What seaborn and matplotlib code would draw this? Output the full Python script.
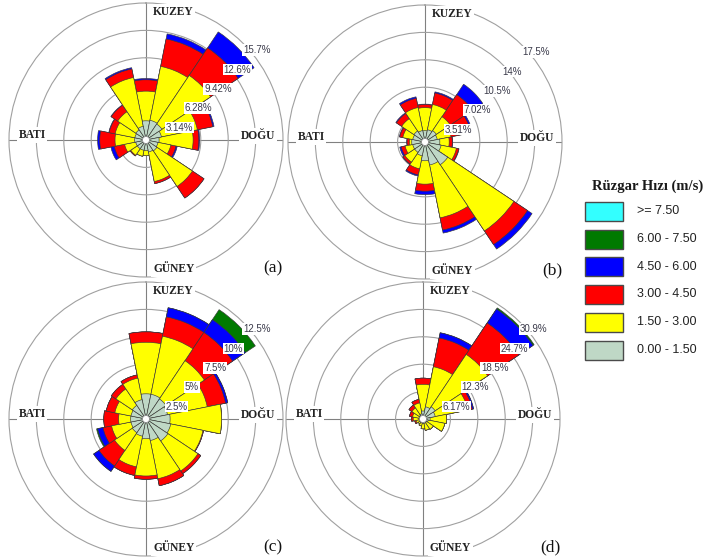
import numpy as np
import pandas as pd
import matplotlib
matplotlib.use("Agg")
import matplotlib.pyplot as plt
from matplotlib.patches import Circle, Rectangle
import seaborn as sns

# ---------------- data ----------------
directions = ["N", "NNE", "NE", "ENE", "E", "ESE", "SE", "SSE",
              "S", "SSW", "SW", "WSW", "W", "WNW", "NW", "NNW"]
direction_deg = [0, 22.5, 45, 67.5, 90, 112.5, 135, 157.5,
                 180, 202.5, 225, 247.5, 270, 292.5, 315, 337.5]
speed_classes = ["0.00 - 1.50", "1.50 - 3.00", "3.00 - 4.50",
                 "4.50 - 6.00", "6.00 - 7.50", ">= 7.50"]
class_colors = ["#bfd8c6", "#ffff00", "#ff0000", "#0000ff", "#007a00", "#33ffff"]

# Panel (a)  frequency (%) per speed class, per direction
a_0_15 = [2.2, 2.3, 2.2, 1.8, 1.5, 1.4, 1.5, 1.4, 1.2, 1.2, 1.2, 1.2, 1.3, 1.3, 1.4, 1.6]
a_15_30 = [3.4, 6.3, 6.7, 4.2, 3.9, 1.5, 4.9, 3.45, 0.6, 0.7, 0.9, 1.3, 2.25, 2.3, 2.5, 5.7]
a_30_45 = [1.3, 3.2, 3.8, 1.8, 0.65, 0.6, 1.6, 0.25, 0.0, 0.0, 0.1, 1.2, 1.75, 0.7, 0.9, 1.0]
a_45_60 = [0.15, 0.6, 2.2, 0.15, 0.1, 0.15, 0.0, 0.0, 0.0, 0.0, 0.0, 0.4, 0.25, 0.05, 0.05, 0.15]
a_60_75 = [0.0] * 16
a_rings = ["3.14%", "6.28%", "9.42%", "12.6%", "15.7%"]
a_step = 3.14

# Panel (b)
b_0_15 = [1.45, 1.6, 1.75, 1.6, 1.9, 2.1, 3.5, 3.0, 2.4, 1.8, 1.6, 1.6, 1.7, 1.6, 1.7, 1.5]
b_15_30 = [2.95, 3.3, 2.15, 1.8, 1.2, 2.0, 10.2, 6.9, 3.0, 1.7, 1.5, 1.0, 0.3, 1.3, 1.9, 3.0]
b_30_45 = [0.4, 1.5, 3.4, 2.6, 0.4, 0.3, 2.1, 1.6, 0.9, 0.8, 0.3, 0.5, 0.3, 0.4, 0.8, 1.2]
b_45_60 = [0.05, 0.15, 1.6, 0.2, 0.05, 0.05, 0.7, 0.4, 0.45, 0.15, 0.05, 0.2, 0.05, 0.05, 0.1, 0.2]
b_60_75 = [0.0] * 16
b_rings = ["3.51%", "7.02%", "10.5%", "14%", "17.5%"]
b_step = 3.51

# Panel (c)
c_0_15 = [2.3, 2.3, 2.2, 2.0, 2.2, 2.3, 2.4, 2.0, 1.8, 1.6, 1.5, 1.4, 1.4, 1.4, 1.5, 1.8]
c_15_30 = [4.7, 5.4, 4.2, 3.7, 4.7, 3.0, 3.3, 3.55, 3.4, 2.85, 1.95, 1.8, 1.1, 1.5, 1.8, 2.0]
c_30_45 = [0.95, 1.8, 3.1, 1.7, 0.0, 0.05, 0.3, 0.65, 0.3, 0.8, 1.7, 0.8, 1.35, 0.8, 0.5, 0.3]
c_45_60 = [0.0, 0.85, 1.4, 0.2, 0.0, 0.0, 0.0, 0.0, 0.0, 0.0, 0.6, 0.5, 0.0, 0.0, 0.0, 0.0]
c_60_75 = [0.0, 0.0, 1.1, 0.0, 0.0, 0.0, 0.0, 0.0, 0.0, 0.0, 0.0, 0.1, 0.0, 0.0, 0.0, 0.0]
c_rings = ["2.5%", "5%", "7.5%", "10%", "12.5%"]
c_step = 2.5

# Panel (d)
d_0_15 = [1.8, 2.8, 3.3, 2.8, 1.6, 1.2, 1.0, 1.0, 1.0, 0.9, 0.8, 0.8, 0.9, 0.9, 1.0, 1.2]
d_15_30 = [6.0, 9.2, 14.2, 7.5, 3.7, 3.8, 1.8, 1.6, 1.2, 0.7, 0.5, 0.8, 1.3, 1.5, 2.0, 2.5]
d_30_45 = [1.4, 6.6, 8.5, 1.0, 0.0, 0.0, 0.0, 0.0, 0.0, 0.0, 0.0, 0.3, 0.4, 0.7, 0.8, 0.8]
d_45_60 = [0.0, 1.2, 3.8, 0.3, 0.0, 0.0, 0.0, 0.0, 0.0, 0.0, 0.0, 0.0, 0.0, 0.0, 0.0, 0.0]
d_60_75 = [0.0, 0.0, 0.3, 0.0, 0.0, 0.0, 0.0, 0.0, 0.0, 0.0, 0.0, 0.0, 0.0, 0.0, 0.0, 0.0]
d_rings = ["6.17%", "12.3%", "18.5%", "24.7%", "30.9%"]
d_step = 6.17

compass_labels = ["KUZEY", "DOĞU", "GÜNEY", "BATI"]
panel_tags = ["(a)", "(b)", "(c)", "(d)"]
legend_title = "Rüzgar Hızı (m/s)"

# ---------------- style ----------------
sns.set_theme(style="white")
SERIF = ["Liberation Serif", "DejaVu Serif"]
SANS = ["Liberation Sans", "DejaVu Sans"]
plt.rcParams["font.family"] = SANS

W, H = 716, 560
fig = plt.figure(figsize=(W / 100, H / 100), dpi=100)
fig.patch.set_facecolor("white")
R = 137  # outer ring radius, px
EDGE = "#3a3a3a"


def fx(x):
    return x / W


def fy(y):
    return 1 - y / H


def draw_rose(center, classes, step, ring_labels, tag):
    cx, cy = center
    ax = fig.add_axes([fx(cx - R), fy(cy + R), 2 * R / W, 2 * R / H], projection="polar")
    ax.set_theta_zero_location("N")
    ax.set_theta_direction(-1)
    theta = np.deg2rad(direction_deg)
    cum = np.cumsum(np.array(classes, dtype=float), axis=0)
    for k in range(cum.shape[0] - 1, -1, -1):
        if np.allclose(classes[k], 0):
            continue
        df = pd.DataFrame({"theta": theta, "pct": cum[k]})
        sns.barplot(data=df, x="theta", y="pct", native_scale=True, width=1,
                    color=class_colors[k], saturation=1, edgecolor=EDGE,
                    linewidth=0.45, errorbar=None, ax=ax)
    rmax = 5 * step
    ax.set_ylim(0, rmax)
    ax.set_xlabel("")
    ax.set_ylabel("")
    ax.set_thetagrids([0, 90, 180, 270], labels=["", "", "", ""])
    ax.set_yticks([step * i for i in range(1, 5)])
    ax.set_yticklabels([])
    ax.set_axisbelow(True)
    ax.xaxis.grid(True, color="#808080", linewidth=0.8)
    ax.yaxis.grid(True, color="#a0a0a0", linewidth=0.8)
    ax.spines["polar"].set_color("#a0a0a0")
    ax.spines["polar"].set_linewidth(0.8)
    ax.tick_params(pad=0, length=0)
    ax.add_patch(Circle((0.5, 0.5), 3.5 / (2 * R), transform=ax.transAxes,
                        facecolor="white", edgecolor="#8a8a8a", lw=0.5, zorder=6))
    for i, lab in enumerate(ring_labels):
        ax.annotate(lab, xy=(np.pi / 4, step * (i + 1)), xytext=(0, -7),
                    textcoords="offset pixels", ha="left", va="center",
                    fontsize=7, color="#3a3a4a", family=SANS, zorder=8,
                    bbox=dict(boxstyle="square,pad=0.08", fc="white", ec="none"))
    lab_kw = dict(fontsize=8.3, fontweight="bold", color="#222222", family=SERIF,
                  zorder=9, bbox=dict(boxstyle="square,pad=0.15", fc="white", ec="none"))
    fig.text(fx(cx + 7), fy(cy - 128), compass_labels[0], ha="left", va="center", **lab_kw)
    fig.text(fx(cx + 112), fy(cy - 4), compass_labels[1], ha="center", va="center", **lab_kw)
    fig.text(fx(cx + 7), fy(cy + 129), compass_labels[2], ha="left", va="center", **lab_kw)
    fig.text(fx(cx - 114), fy(cy - 5), compass_labels[3], ha="center", va="center", **lab_kw)
    fig.text(fx(cx + 127), fy(cy + 128), tag, ha="center", va="center",
             fontsize=12.5, color="#111111", family=SERIF)
    return ax


draw_rose((146, 140), [a_0_15, a_15_30, a_30_45, a_45_60, a_60_75], a_step, a_rings, panel_tags[0])
draw_rose((425, 142), [b_0_15, b_15_30, b_30_45, b_45_60, b_60_75], b_step, b_rings, panel_tags[1])
draw_rose((146, 419), [c_0_15, c_15_30, c_30_45, c_45_60, c_60_75], c_step, c_rings, panel_tags[2])
draw_rose((423, 419), [d_0_15, d_15_30, d_30_45, d_45_60, d_60_75], d_step, d_rings, panel_tags[3])

# ---------------- legend ----------------
fig.text(fx(648), fy(186), legend_title, ha="center", va="center",
         fontsize=10.5, fontweight="bold", color="#1a1a1a", family=SERIF)
row_y = [211, 239, 266.5, 294, 322, 350]
for i, yy in enumerate(row_y):
    k = len(speed_classes) - 1 - i
    fig.add_artist(Rectangle((fx(585), fy(yy + 9.5)), 38 / W, 19 / H,
                             transform=fig.transFigure, facecolor=class_colors[k],
                             edgecolor="#4a4a4a", linewidth=1.0))
    fig.text(fx(637), fy(yy), speed_classes[k], ha="left", va="center",
             fontsize=9, color="#222222", family=SANS)

fig.savefig("out.png", dpi=100, facecolor="white")
